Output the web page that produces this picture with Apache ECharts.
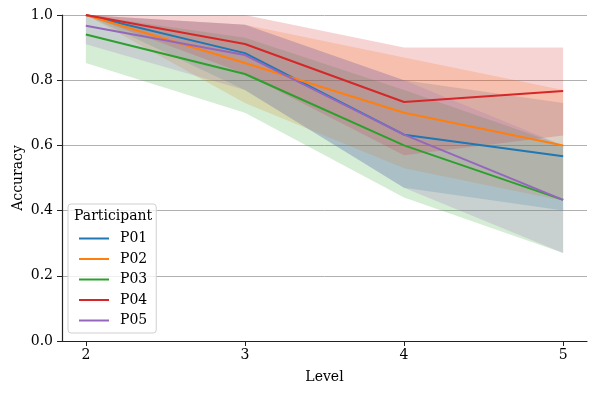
<!DOCTYPE html>
<html>
<head>
<meta charset="utf-8">
<script src="https://cdn.jsdelivr.net/npm/echarts@6/dist/echarts.min.js"></script>
<style>
  html, body { margin: 0; padding: 0; background: #fff; }
  #chart { width: 597px; height: 394px; }
</style>
</head>
<body>
<div id="chart"></div>
<script>
const levels = [2, 3, 4, 5];
const participants = ["P01", "P02", "P03", "P04", "P05"];
const colors = ["#1f77b4", "#ff7f0e", "#2ca02c", "#d62728", "#9467bd"];
const bandColors = [
  "rgba(31,119,180,0.2)",
  "rgba(255,127,14,0.2)",
  "rgba(44,160,44,0.2)",
  "rgba(214,39,40,0.2)",
  "rgba(148,103,189,0.2)"
];

// mean accuracy per level
const meanP01 = [1.0, 0.883, 0.633, 0.567];
const meanP02 = [1.0, 0.853, 0.700, 0.600];
const meanP03 = [0.940, 0.819, 0.600, 0.433];
const meanP04 = [1.0, 0.911, 0.733, 0.767];
const meanP05 = [0.967, 0.877, 0.633, 0.433];

// confidence band lower / upper
const loP01 = [1.0, 0.77, 0.47, 0.40];
const hiP01 = [1.0, 0.97, 0.80, 0.73];
const loP02 = [1.0, 0.73, 0.53, 0.43];
const hiP02 = [1.0, 0.97, 0.87, 0.77];
const loP03 = [0.853, 0.70, 0.44, 0.27];
const hiP03 = [1.0, 0.93, 0.77, 0.60];
const loP04 = [1.0, 0.82, 0.57, 0.63];
const hiP04 = [1.0, 1.0, 0.90, 0.90];
const loP05 = [0.91, 0.77, 0.47, 0.27];
const hiP05 = [1.0, 0.97, 0.80, 0.60];

const yTicks = [0, 0.2, 0.4, 0.6, 0.8, 1.0];

const means = [meanP01, meanP02, meanP03, meanP04, meanP05];
const los = [loP01, loP02, loP03, loP04, loP05];
const his = [hiP01, hiP02, hiP03, hiP04, hiP05];

const font = "DejaVu Serif";

// one polygon per band, built from the data rows [level, lo, hi]
const renderBand = color => (params, api) => {
  if (params.dataIndexInside !== 0) return;
  const n = params.dataInsideLength;
  const upper = [], lower = [];
  for (let i = 0; i < n; i++) {
    const x = api.value(0, i);
    lower.push(api.coord([x, api.value(1, i)]));
    upper.push(api.coord([x, api.value(2, i)]));
  }
  return {
    type: "polygon",
    shape: { points: lower.concat(upper.reverse()) },
    style: { fill: color }
  };
};

const series = [];
participants.forEach((p, k) => {
  series.push({
    name: p + " band",
    type: "custom",
    renderItem: renderBand(bandColors[k]),
    data: levels.map((x, i) => [x, los[k][i], his[k][i]]),
    encode: { x: 0, y: [1, 2] },
    silent: true,
    clip: true,
    z: 1
  });
});
participants.forEach((p, k) => {
  series.push({
    name: p,
    type: "line",
    data: levels.map((x, i) => [x, means[k][i]]),
    symbol: "none",
    color: colors[k],
    lineStyle: { width: 2, color: colors[k] },
    z: 3
  });
});

const chart = echarts.init(document.getElementById("chart"));
chart.setOption({
  backgroundColor: "#ffffff",
  animation: false,
  textStyle: { fontFamily: font },
  grid: { left: 62, right: 10, top: 15, bottom: 53, containLabel: false, outerBoundsMode: "none" },
  xAxis: {
    type: "value",
    min: 1.85,
    max: 5.15,
    name: "Level",
    nameLocation: "middle",
    nameGap: 29,
    nameTextStyle: { fontFamily: font, fontSize: 14, color: "#000" },
    axisLine: { show: true, onZero: false, lineStyle: { color: "#222", width: 1.2 } },
    axisTick: { show: true, length: 5, customValues: levels, lineStyle: { color: "#222" } },
    axisLabel: { customValues: levels, fontFamily: font, fontSize: 14, color: "#000", margin: 7 },
    splitLine: { show: false }
  },
  yAxis: {
    type: "value",
    min: 0,
    max: 1,
    interval: 0.2,
    name: "Accuracy",
    nameLocation: "middle",
    nameRotate: 90,
    nameGap: 37,
    nameMoveOverlap: false,
    nameTextStyle: { fontFamily: font, fontSize: 14, color: "#000" },
    axisLine: { show: true, lineStyle: { color: "#222", width: 1.2 } },
    axisTick: { show: true, length: 5, lineStyle: { color: "#222" } },
    axisLabel: {
      fontFamily: font, fontSize: 14, color: "#000", margin: 9,
      formatter: v => (yTicks.includes(+v.toFixed(1)) ? v.toFixed(1) : "")
    },
    splitLine: { show: true, lineStyle: { color: "#b0b0b0", width: 1 } }
  },
  legend: {
    data: participants,
    orient: "vertical",
    left: 68,
    top: 204,
    padding: [27, 9, 5, 11],
    itemGap: 5.5,
    itemWidth: 30,
    itemHeight: 2,
    icon: "rect",
    backgroundColor: "rgba(255,255,255,0.8)",
    borderColor: "#d0d0d0",
    borderWidth: 1,
    borderRadius: 3,
    textStyle: { fontFamily: font, fontSize: 14, color: "#000", lineHeight: 15, padding: [0, 0, 0, 6] }
  },
  graphic: [{
    type: "text",
    left: 74,
    top: 209,
    z: 100,
    style: { text: "Participant", font: "14px 'DejaVu Serif'", fill: "#000" }
  }],
  series: series
});
</script>
</body>
</html>
